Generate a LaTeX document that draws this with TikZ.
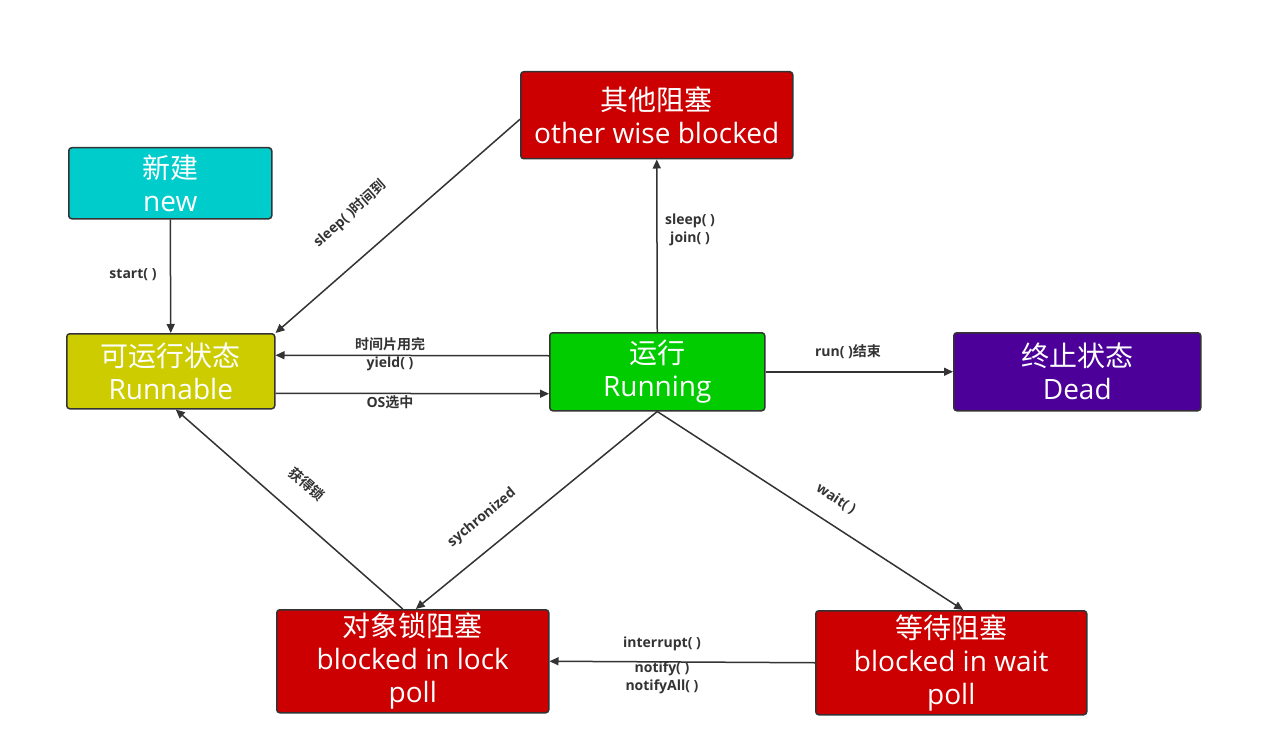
\documentclass[tikz,border=0pt]{standalone}
\usepackage{fontspec}
\setmainfont{Open Sans}
\newfontfamily\cjk{Noto Sans CJK SC}
\newfontfamily\cjkb{Noto Sans CJK SC Bold}
\newfontfamily\lblfont{Open Sans Bold}
\usetikzlibrary{arrows.meta,positioning}
\definecolor{bcyan}{RGB}{0,204,204}
\definecolor{bred}{RGB}{204,0,0}
\definecolor{byellow}{RGB}{204,204,0}
\definecolor{bgreen}{RGB}{0,204,0}
\definecolor{bpurple}{RGB}{76,0,153}
\definecolor{edgec}{RGB}{51,51,51}
\tikzset{
  statebox/.style={draw=edgec, line width=1.5pt, rounded corners=3pt, anchor=north west,
    inner sep=0pt, align=center, text=white, font=\fontsize{28}{33}\selectfont},
  conn/.style={draw=edgec, line width=1.5pt, -{Triangle[length=9pt,width=8pt]}},
  lbl/.style={text=edgec, font=\lblfont\fontsize{14}{18}\selectfont, inner sep=0pt, align=center},
}
\begin{document}
\begin{tikzpicture}[x=1pt,y=-1pt]
\useasboundingbox (0,0) rectangle (1263,738);
\node[statebox, fill=bcyan, minimum width=203pt, minimum height=71pt] (new) at (68,147) {{\cjk 新建}\\new};
\node[statebox, fill=bred, minimum width=272pt, minimum height=87pt] (other) at (520,71) {{\cjk 其他阻塞}\\other wise blocked};
\node[statebox, fill=byellow, minimum width=208pt, minimum height=75pt] (runnable) at (66,333) {{\cjk 可运行状态}\\Runnable};
\node[statebox, fill=bgreen, minimum width=215pt, minimum height=78pt] (running) at (549,332) {{\cjk 运行}\\Running};
\node[statebox, fill=bpurple, minimum width=247pt, minimum height=78pt] (dead) at (953,332) {{\cjk 终止状态}\\Dead};
\node[statebox, fill=bred, minimum width=272pt, minimum height=103pt] (lock) at (276,609) {{\cjk 对象锁阻塞}\\blocked in lock\\poll};
\node[statebox, fill=bred, minimum width=271pt, minimum height=104pt] (wait) at (815,610) {{\cjk 等待阻塞}\\blocked in wait\\poll};

\draw[conn] (new.south) -- (runnable.north);
\node[lbl] (lstart) at (133,275) {start( )};

\draw[conn] ([yshift=-4pt]other.west) -- (runnable.north east);
\node[lbl, rotate=41.8] (lsleep) at (350,214) {sleep( ){\cjkb 时间到}};

\draw[conn] (running.north) -- (other.south);
\node[lbl] (lsj) at (690,230) {sleep( )\\join( )};

\draw[conn] ([yshift=16pt]running.west) -- ([yshift=16pt]runnable.east);
\node[lbl] (lslice) at (390,344) {\cjkb 时间片用完};
\node[lbl] (lyield) at (390,364) {yield( )};

\draw[conn] ([yshift=-22pt]runnable.east) -- ([yshift=-22pt]running.west);
\node[lbl] (los) at (390,402) {OS{\cjkb 选中}};

\draw[conn] (running.east) -- (dead.west);
\node[lbl] (lrun) at (848,352) {run( ){\cjkb 结束}};

\draw[conn] (running.south) -- ([xshift=3pt]lock.north);
\node[lbl, rotate=39.4] (lsync) at (482,518) {sychronized};

\draw[conn] (running.south) -- ([xshift=12pt]wait.north);
\node[lbl, rotate=-33.3] (lwait) at (836,499) {wait( )};

\draw[conn] ([xshift=-10pt]lock.north) -- ([xshift=5pt]runnable.south);
\node[lbl, rotate=-41.5] (llock) at (307,484) {\cjkb 获得锁};

\draw[conn] (wait.west) -- (lock.east);
\node[lbl] (lint) at (662,644) {interrupt( )};
\node[lbl] (lnot) at (662,678) {notify( )\\notifyAll( )};
\end{tikzpicture}
\end{document}
